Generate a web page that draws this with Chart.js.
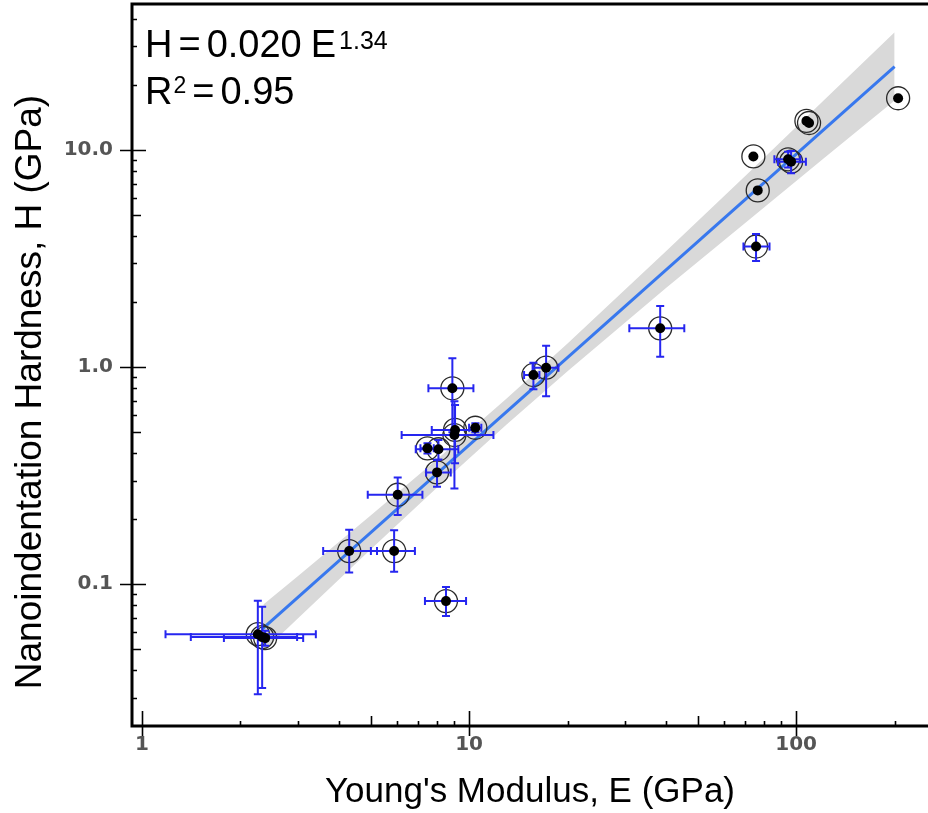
<!DOCTYPE html>
<html>
<head>
<meta charset="utf-8">
<script src="https://cdn.jsdelivr.net/npm/chart.js@4.4.1/dist/chart.umd.min.js"></script>
<style>
  html, body { margin: 0; padding: 0; background: #fff; }
  #wrap { position: relative; width: 928px; height: 813px; overflow: hidden; }
  .eq { position: absolute; left: 145px; font-family: "Liberation Sans", Arial, sans-serif; font-size: 38px; line-height: 38px; color: #000; white-space: nowrap; }
  .eq .sp { display: inline-block; width: 6px; }
  .eq .sp2 { display: inline-block; width: 9px; }
  .eq .sup1 { font-size: 25px; vertical-align: 8px; margin-left: 3px; }
  .eq .sup2 { font-size: 23px; vertical-align: 11px; margin-left: 1px; }
</style>
</head>
<body>
<div id="wrap">
  <canvas id="chart" width="928" height="813"></canvas>
  <div class="eq" id="eq1" style="top:21px">H<span class="sp"></span>=<span class="sp"></span>0.020<span class="sp2"></span>E<span class="sup1">1.34</span></div>
  <div class="eq" id="eq2" style="top:66px">R<span class="sup2">2</span><span class="sp"></span>=<span class="sp"></span>0.95</div>
</div>
<script>
// measured samples: Young's modulus E (GPa) and hardness H (GPa), with error bar ends
const modulus     = [2.26, 2.33, 2.38, 4.30, 5.90, 6.05, 8.50, 7.98, 7.46, 8.06, 8.89, 9.06, 9.02, 10.45, 15.73, 17.2, 38.4, 74.0, 76.3, 75.4, 94.5, 96.5, 107.5, 109.5, 205];
const hardness    = [0.0588, 0.0570, 0.0564, 0.142, 0.142, 0.258, 0.0835, 0.327, 0.422, 0.418, 0.798, 0.513, 0.486, 0.525, 0.919, 0.993, 1.507, 9.33, 6.51, 3.59, 9.05, 8.83, 13.6, 13.3, 17.3];
const modulusLow  = [1.18, 1.41, 1.78, 3.58, 5.01, 4.90, 7.33, 7.39, 7.10, 6.87, 7.51, 7.69, 6.22, 10.0, 14.73, 15.64, 30.9, null, null, 69.0, 85.8, 88.0, null, null, null];
const modulusHigh = [3.40, 2.98, 3.11, 5.23, 6.83, 7.20, 9.79, 8.79, 7.80, 9.27, 10.31, 10.42, 11.87, 10.9, 16.41, 18.76, 45.5, null, null, 82.9, 103, 107.1, null, null, null];
const hardnessLow = [0.0311, 0.0332, 0.0520, 0.113, 0.114, 0.208, 0.0712, 0.281, 0.400, 0.375, 0.500, 0.360, 0.276, 0.50, 0.79, 0.733, 1.115, null, null, 3.08, 8.3, 7.81, null, null, null];
const hardnessHigh= [0.0838, 0.0786, 0.0610, 0.178, 0.177, 0.310, 0.0969, 0.373, 0.445, 0.461, 1.097, 0.668, 0.696, 0.55, 1.047, 1.253, 1.91, null, null, 4.10, 9.8, 9.89, null, null, null];

// power-law fit line (ends) and its confidence band
const fitE = [2.33, 200];
const fitH = [0.0621, 24.2];
const bandE     = [2.35, 3, 5, 8, 13, 20, 40, 70, 120, 200];
const bandUpper = [0.0805, 0.109, 0.207, 0.377, 0.714, 1.283, 3.41, 7.60, 16.6, 34.8];
const bandLower = [0.0490, 0.0696, 0.1445, 0.279, 0.542, 0.955, 2.31, 4.62, 9.02, 16.9];

// labelled ticks
const xTickValues = [1, 10, 100];
const xTickLabels = ["1", "10", "100"];
const yTickValues = [0.1, 1, 10];
const yTickLabels = ["0.1", "1.0", "10.0"];

const xTitle = "Young's Modulus, E (GPa)";
const yTitle = "Nanoindentation Hardness, H (GPa)";

const barColor = "#2626f0";
const CIRCLE_DS = 3;

function labelFor(v, values, labels) {
    const i = values.findIndex(t => Math.abs(Math.log10(t) - Math.log10(v)) < 1e-6);
    return i >= 0 ? labels[i] : "";
}

function mantissa(v) {
    const e = Math.floor(Math.log10(v) + 1e-9);
    const m = v / Math.pow(10, e);
    return Math.abs(m - Math.round(m)) < 1e-6 ? Math.round(m) : null;
}

// error bars go on top of the open circles, under the black dots
const errorBars = {
    id: "errorBars",
    afterDatasetDraw(chart, args) {
        if (args.index !== CIRCLE_DS) return;
        const { ctx, chartArea: a, scales: { x, y } } = chart;
        ctx.save();
        ctx.beginPath();
        ctx.rect(a.left, a.top, a.right - a.left, a.bottom - a.top);
        ctx.clip();
        ctx.strokeStyle = barColor;
        ctx.lineWidth = 2;
        const cap = 4;
        modulus.forEach((e, i) => {
            const px = x.getPixelForValue(e);
            const py = y.getPixelForValue(hardness[i]);
            ctx.beginPath();
            if (modulusLow[i] != null) {
                const x1 = x.getPixelForValue(modulusLow[i]);
                const x2 = x.getPixelForValue(modulusHigh[i]);
                ctx.moveTo(x1, py); ctx.lineTo(x2, py);
                ctx.moveTo(x1, py - cap); ctx.lineTo(x1, py + cap);
                ctx.moveTo(x2, py - cap); ctx.lineTo(x2, py + cap);
            }
            if (hardnessLow[i] != null) {
                const y1 = y.getPixelForValue(hardnessLow[i]);
                const y2 = y.getPixelForValue(hardnessHigh[i]);
                ctx.moveTo(px, y1); ctx.lineTo(px, y2);
                ctx.moveTo(px - cap, y1); ctx.lineTo(px + cap, y1);
                ctx.moveTo(px - cap, y2); ctx.lineTo(px + cap, y2);
            }
            ctx.stroke();
        });
        ctx.restore();
    }
};

// open frame (left, bottom, top) with inward log ticks, plus the vertical axis title
const frameTicks = {
    id: "frameTicks",
    afterDraw(chart) {
        const { ctx, chartArea: a, scales: { x, y } } = chart;
        ctx.save();
        ctx.strokeStyle = "#000";
        ctx.lineWidth = 1.6;
        ctx.beginPath();
        x.ticks.forEach(t => {
            const m = mantissa(t.value);
            if (m === null) return;
            const px = Math.round(x.getPixelForValue(t.value)) + 0.5;
            if (m === 1) { ctx.moveTo(px, a.bottom - 15); ctx.lineTo(px, a.bottom + 10); }
            else if (m === 5) { ctx.moveTo(px, a.bottom - 10); ctx.lineTo(px, a.bottom); }
            else { ctx.moveTo(px, a.bottom - 5); ctx.lineTo(px, a.bottom); }
        });
        y.ticks.forEach(t => {
            const m = mantissa(t.value);
            if (m === null) return;
            const py = Math.round(y.getPixelForValue(t.value)) + 0.5;
            if (m === 1) { ctx.moveTo(a.left - 12, py); ctx.lineTo(a.left + 14, py); }
            else if (m === 5) { ctx.moveTo(a.left, py); ctx.lineTo(a.left + 9, py); }
            else { ctx.moveTo(a.left, py); ctx.lineTo(a.left + 5, py); }
        });
        ctx.stroke();

        ctx.lineWidth = 3;
        ctx.beginPath();
        ctx.moveTo(a.left, a.top); ctx.lineTo(a.right, a.top);
        ctx.moveTo(a.left, a.top - 1.5); ctx.lineTo(a.left, a.bottom + 1.5);
        ctx.moveTo(a.left - 1.5, a.bottom); ctx.lineTo(a.right, a.bottom);
        ctx.stroke();

        ctx.translate(41, 392);
        ctx.rotate(-Math.PI / 2);
        ctx.fillStyle = "#000";
        ctx.font = '37px "Liberation Sans", Arial, sans-serif';
        ctx.textAlign = "center";
        ctx.textBaseline = "alphabetic";
        ctx.fillText(yTitle, 0, 0);
        ctx.restore();
    }
};

const tickFont = { family: '"DejaVu Sans", sans-serif', weight: "bold", size: 20 };

new Chart(document.getElementById("chart"), {
    type: "scatter",
    data: {
        datasets: [
            {
                label: "band upper",
                data: bandE.map((e, i) => ({ x: e, y: bandUpper[i] })),
                showLine: true,
                borderWidth: 0,
                pointRadius: 0,
                backgroundColor: "#d9d9d9",
                fill: "+1",
                order: 10
            },
            {
                label: "band lower",
                data: bandE.map((e, i) => ({ x: e, y: bandLower[i] })),
                showLine: true,
                borderWidth: 0,
                pointRadius: 0,
                fill: false,
                order: 9
            },
            {
                label: "fit",
                data: fitE.map((e, i) => ({ x: e, y: fitH[i] })),
                showLine: true,
                borderColor: "#3878ee",
                borderWidth: 3,
                pointRadius: 0,
                fill: false,
                order: 8
            },
            {
                label: "circles",
                data: modulus.map((e, i) => ({ x: e, y: hardness[i] })),
                pointRadius: 11.5,
                pointBackgroundColor: "rgba(0,0,0,0)",
                pointBorderColor: "#2a2a2a",
                pointBorderWidth: 1.3,
                order: 3
            },
            {
                label: "samples",
                data: modulus.map((e, i) => ({ x: e, y: hardness[i] })),
                pointRadius: 5,
                pointBackgroundColor: "#000",
                pointBorderWidth: 0,
                order: 1
            }
        ]
    },
    options: {
        responsive: false,
        animation: false,
        events: [],
        layout: { autoPadding: false, padding: { top: 4, right: 0, bottom: 0, left: 0 } },
        plugins: { legend: { display: false }, tooltip: { enabled: false } },
        scales: {
            x: {
                type: "logarithmic",
                min: 0.932,
                max: 253,
                grid: { display: false, drawTicks: false },
                border: { display: false },
                ticks: {
                    autoSkip: false,
                    maxRotation: 0,
                    padding: 7,
                    color: "#555",
                    font: tickFont,
                    callback: v => labelFor(v, xTickValues, xTickLabels)
                },
                title: {
                    display: true,
                    text: xTitle,
                    color: "#000",
                    font: { family: '"Liberation Sans", Arial, sans-serif', size: 35, lineHeight: 1 },
                    padding: { top: 0, bottom: 3 }
                },
                afterFit: s => { s.height = 87; s.paddingLeft = 0; s.paddingRight = 0; }
            },
            y: {
                type: "logarithmic",
                min: 0.0222,
                max: 47,
                grid: { display: false, drawTicks: false },
                border: { display: false },
                ticks: {
                    autoSkip: false,
                    padding: 19,
                    color: "#555",
                    font: tickFont,
                    callback: v => labelFor(v, yTickValues, yTickLabels)
                },
                afterFit: s => { s.width = 132; s.paddingTop = 0; s.paddingBottom = 0; }
            }
        }
    },
    plugins: [errorBars, frameTicks]
});
</script>
</body>
</html>
